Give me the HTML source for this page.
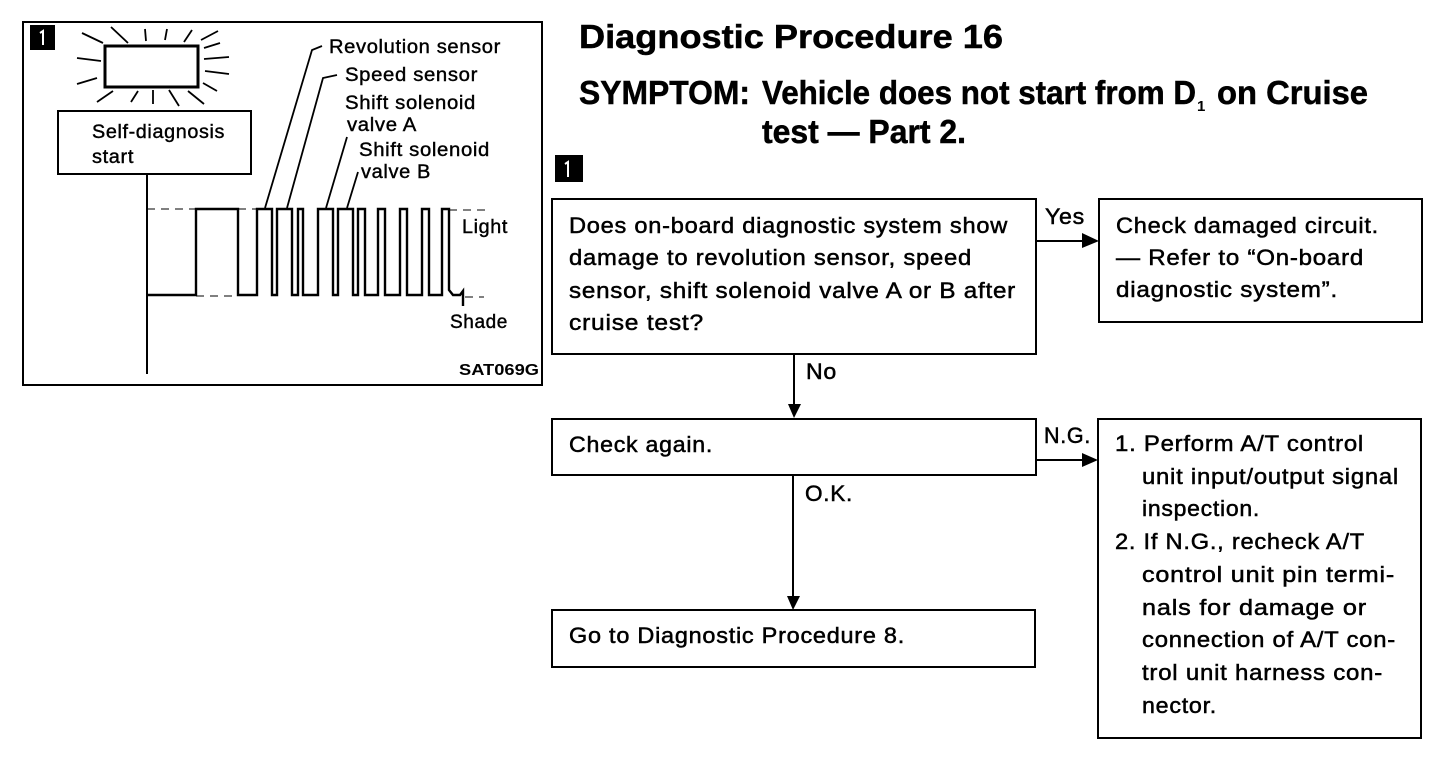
<!DOCTYPE html>
<html><head><meta charset="utf-8"><style>
html,body{margin:0;padding:0;background:#fff}
svg{display:block}
text{font-family:"Liberation Sans",sans-serif;fill:#000}
.t{font-size:22px;letter-spacing:.7px;stroke:#000;stroke-width:.5px}
.s{font-size:19px;letter-spacing:.6px;stroke:#000;stroke-width:.4px}
.h{font-size:33px;font-weight:bold;stroke:#000;stroke-width:.5px}
</style></head><body>
<svg width="1456" height="764" viewBox="0 0 1456 764" xmlns="http://www.w3.org/2000/svg">
<rect width="1456" height="764" fill="#fff"/>
<g fill="none" stroke="#000" stroke-width="2">
<rect x="23" y="22" width="519" height="363"/>
<rect x="105" y="46" width="93" height="41" stroke-width="3"/>
<rect x="58" y="111" width="193" height="63"/>
<path d="M147 174V374" />
<rect x="552" y="199" width="484" height="155"/>
<rect x="1099" y="199" width="323" height="123"/>
<rect x="552" y="419" width="484" height="56"/>
<rect x="552" y="610" width="483" height="57"/>
<rect x="1098" y="419" width="323" height="319"/>
<path d="M1036 241H1085M1036 460H1085M794 354V405M793 475V597"/>
</g>
<path d="M1082 233L1099 241L1082 248ZM1082 453L1098 460L1082 467ZM788 404H801L794 418ZM787 596H800L793 610Z" fill="#000"/>
<g fill="none" stroke="#000" stroke-width="1.8">
<path d="M82 33L103 43M111 27L128 43M145 29L146 41M167 29L165 40M192 30L184 42M218 31L201 40M220 43L204 48M204 59L229 57M205 71L229 74M203 83L217 91M77 58L101 61M77 84L97 78M97 102L113 91M131 102L138 91M153 90V104M169 90L179 106M188 91L204 104"/>
<path d="M265 208L312 50L322 46M287 208L323 78L337 75M326 208L347 137M347 208L358 172"/>
</g>
<path d="M147 209H196M238 209H257M449 210H490" stroke="#000" stroke-width="1" stroke-dasharray="8 6" fill="none"/>
<path d="M196 296H238M465 297H484" stroke="#000" stroke-width="1" stroke-dasharray="8 6" fill="none"/>
<path d="M147 295H196V209H238V295H257V209H272V295H277V209H292V295H298V209H303V295H318V209H333V295H338V209H353V295H358V209H365V295H378V209H385V295H400V209H407V295H422V209H429V295H442V209H449V290L453 295H460L463 291V306" fill="none" stroke="#000" stroke-width="2.4"/>
<rect x="30" y="25" width="25" height="25" fill="#000"/>
<rect x="555" y="155" width="28" height="27" fill="#000"/>
<path d="M40 33L43 31V45" stroke="#fff" stroke-width="2" fill="none"/>
<path d="M565 164L568 162V177" stroke="#fff" stroke-width="2" fill="none"/>
<g lengthAdjust="spacingAndGlyphs">
<text class="s" x="92" y="138" textLength="133" lengthAdjust="spacingAndGlyphs">Self-diagnosis</text>
<text class="s" x="92" y="163" textLength="42" lengthAdjust="spacingAndGlyphs">start</text>
<text class="s" x="329" y="53" textLength="172" lengthAdjust="spacingAndGlyphs">Revolution sensor</text>
<text class="s" x="345" y="81" textLength="133" lengthAdjust="spacingAndGlyphs">Speed sensor</text>
<text class="s" x="345" y="109" textLength="131" lengthAdjust="spacingAndGlyphs">Shift solenoid</text>
<text class="s" x="347" y="131" textLength="70" lengthAdjust="spacingAndGlyphs">valve A</text>
<text class="s" x="359" y="156" textLength="131" lengthAdjust="spacingAndGlyphs">Shift solenoid</text>
<text class="s" x="361" y="178" textLength="70" lengthAdjust="spacingAndGlyphs">valve B</text>
<text class="s" x="462" y="233" textLength="46" lengthAdjust="spacingAndGlyphs">Light</text>
<text class="s" x="450" y="328" textLength="58" lengthAdjust="spacingAndGlyphs">Shade</text>
<text x="459" y="375" font-size="16" font-weight="bold" textLength="80" lengthAdjust="spacingAndGlyphs">SAT069G</text>
<text class="h" x="579" y="48" textLength="424" lengthAdjust="spacingAndGlyphs">Diagnostic Procedure 16</text>
<text class="h" x="579" y="104" textLength="171" lengthAdjust="spacingAndGlyphs">SYMPTOM:</text>
<text class="h" x="762" y="104" textLength="434" lengthAdjust="spacingAndGlyphs">Vehicle does not start from D</text>
<text x="1197" y="111" font-size="15" font-weight="bold">1</text>
<text class="h" x="1217" y="104" textLength="151" lengthAdjust="spacingAndGlyphs">on Cruise</text>
<text class="h" x="762" y="143" textLength="204" lengthAdjust="spacingAndGlyphs">test — Part 2.</text>
<text class="t" x="569" y="233" textLength="439" lengthAdjust="spacingAndGlyphs">Does on-board diagnostic system show</text>
<text class="t" x="569" y="265" textLength="403" lengthAdjust="spacingAndGlyphs">damage to revolution sensor, speed</text>
<text class="t" x="569" y="298" textLength="447" lengthAdjust="spacingAndGlyphs">sensor, shift solenoid valve A or B after</text>
<text class="t" x="569" y="330" textLength="135" lengthAdjust="spacingAndGlyphs">cruise test?</text>
<text class="t" x="1045" y="224" textLength="40" lengthAdjust="spacingAndGlyphs">Yes</text>
<text class="t" x="1116" y="233" textLength="263" lengthAdjust="spacingAndGlyphs">Check damaged circuit.</text>
<text class="t" x="1116" y="265" textLength="248" lengthAdjust="spacingAndGlyphs">— Refer to “On-board</text>
<text class="t" x="1116" y="297" textLength="222" lengthAdjust="spacingAndGlyphs">diagnostic system”.</text>
<text class="t" x="806" y="379" textLength="31" lengthAdjust="spacingAndGlyphs">No</text>
<text class="t" x="569" y="452" textLength="144" lengthAdjust="spacingAndGlyphs">Check again.</text>
<text class="t" x="1044" y="443" textLength="47" lengthAdjust="spacingAndGlyphs">N.G.</text>
<text class="t" x="805" y="501" textLength="48" lengthAdjust="spacingAndGlyphs">O.K.</text>
<text class="t" x="569" y="643" textLength="336" lengthAdjust="spacingAndGlyphs">Go to Diagnostic Procedure 8.</text>
<text class="t" x="1115" y="451" textLength="249" lengthAdjust="spacingAndGlyphs">1. Perform A/T control</text>
<text class="t" x="1142" y="484" textLength="257" lengthAdjust="spacingAndGlyphs">unit input/output signal</text>
<text class="t" x="1142" y="516" textLength="118" lengthAdjust="spacingAndGlyphs">inspection.</text>
<text class="t" x="1115" y="549" textLength="250" lengthAdjust="spacingAndGlyphs">2. If N.G., recheck A/T</text>
<text class="t" x="1142" y="582" textLength="253" lengthAdjust="spacingAndGlyphs">control unit pin termi-</text>
<text class="t" x="1142" y="615" textLength="225" lengthAdjust="spacingAndGlyphs">nals for damage or</text>
<text class="t" x="1142" y="647" textLength="254" lengthAdjust="spacingAndGlyphs">connection of A/T con-</text>
<text class="t" x="1142" y="680" textLength="241" lengthAdjust="spacingAndGlyphs">trol unit harness con-</text>
<text class="t" x="1142" y="713" textLength="75" lengthAdjust="spacingAndGlyphs">nector.</text>
</g>
</svg>
</body></html>
